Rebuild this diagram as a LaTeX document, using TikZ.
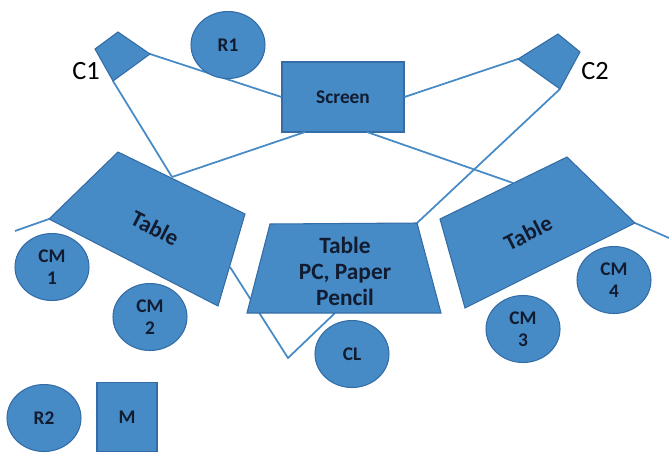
\documentclass[tikz,border=0pt]{standalone}
\usepackage{fontspec}
\setmainfont{Carlito}
\usetikzlibrary{shapes.geometric}
\definecolor{roomblue}{RGB}{70,138,198}
\definecolor{roomedge}{RGB}{52,108,165}
\definecolor{roomtext}{RGB}{18,28,48}
\tikzset{
  seat/.style={ellipse,fill=roomblue,draw=roomedge,line width=0.6pt,
    minimum width=1.48cm,minimum height=1.34cm,inner sep=0pt,align=center,
    font=\bfseries\fontsize{11}{12.5}\selectfont,text=roomtext},
  box/.style={rectangle,fill=roomblue,draw=roomedge,line width=0.6pt,
    inner sep=0pt,font=\bfseries\fontsize{11}{12.5}\selectfont,text=roomtext},
  furniture/.style={fill=roomblue,draw=roomedge,line width=0.6pt},
  tag/.style={font=\bfseries\fontsize{13}{14.5}\selectfont,text=roomtext,align=center},
  cam/.style={font=\fontsize{15}{18}\selectfont,text=black},
  wire/.style={draw=roomblue,line width=1pt},
}
\begin{document}
\begin{tikzpicture}[x=0.02cm,y=-0.02cm]
      \useasboundingbox (0,0) rectangle (669,453);
      \draw
        (95,49) coordinate (c1a)
        (118,32) coordinate (c1b)
        (150,54) coordinate (c1c)
        (113,81) coordinate (c1d)
        (518,59) coordinate (c2a)
        (558,34) coordinate (c2b)
        (580,52) coordinate (c2c)
        (560,89) coordinate (c2d)
        (49,219) coordinate (lt1)
        (118,152) coordinate (lt2)
        (245,214) coordinate (lt3)
        (218,306) coordinate (lt4)
        (270,224) coordinate (ct1)
        (417,223) coordinate (ct2)
        (441,313) coordinate (ct3)
        (247,313) coordinate (ct4)
        (440,219) coordinate (rt1)
        (567,157) coordinate (rt2)
        (635,223) coordinate (rt3)
        (465,308) coordinate (rt4)
        (172,177) coordinate (ltop)
        (513,183) coordinate (rtop)
        (305,132) coordinate (sb1)
        (367,132) coordinate (sb2)
        (230,267) coordinate (lside)
        (288,358) coordinate (vtip)
        (335,313) coordinate (cbot)
        (15,231) coordinate (lend)
        (669,238) coordinate (rend);
      \node[box,minimum width=2.44cm,minimum height=1.4cm] (screen) at (343,97) {Screen};
      \begin{scope}[wire]
        \draw (c1c) to (screen.west);
        \draw (c1d) to (ltop);
        \draw (sb1) to (ltop);
        \draw (screen.east) to (c2a);
        \draw (sb2) to (rtop);
        \draw (c2d) to (ct2);
        \draw (lt1) to (lend);
        \draw (lside) to (vtip) to (cbot);
        \draw (rt3) to (rend);
      \end{scope}
      \begin{scope}[furniture]
        \filldraw (c1a) -- (c1b) -- (c1c) -- (c1d) -- cycle;
        \filldraw (c2a) -- (c2b) -- (c2c) -- (c2d) -- cycle;
        \filldraw (lt1) -- (lt2) -- (lt3) -- (lt4) -- cycle;
        \filldraw (ct1) -- (ct2) -- (ct3) -- (ct4) -- cycle;
        \filldraw (rt1) -- (rt2) -- (rt3) -- (rt4) -- cycle;
      \end{scope}
      \node[cam] (c1label) at (86,71) {C1};
      \node[cam] (c2label) at (595,71) {C2};
      \node[tag,rotate=-27] (lefttable) at (155,228) {Table};
      \node[tag,rotate=27] (righttable) at (528,233) {Table};
      \node[tag,font=\bfseries\fontsize{13.3}{14.8}\selectfont] (centertable) at (345,271) {Table\\PC, Paper\\Pencil};
      \node[seat] (r1) at (228,45) {R1};
      \node[seat] (cm1) at (52,267) {CM\\1};
      \node[seat] (cm2) at (150,317) {CM\\2};
      \node[seat] (cl) at (352,354) {CL};
      \node[seat] (cm3) at (523,329) {CM\\3};
      \node[seat] (cm4) at (614,280) {CM\\4};
      \node[seat] (r2) at (44,418) {R2};
      \node[box,minimum width=1.2cm,minimum height=1.38cm] (m) at (127,417) {M};
    \end{tikzpicture}
\end{document}
